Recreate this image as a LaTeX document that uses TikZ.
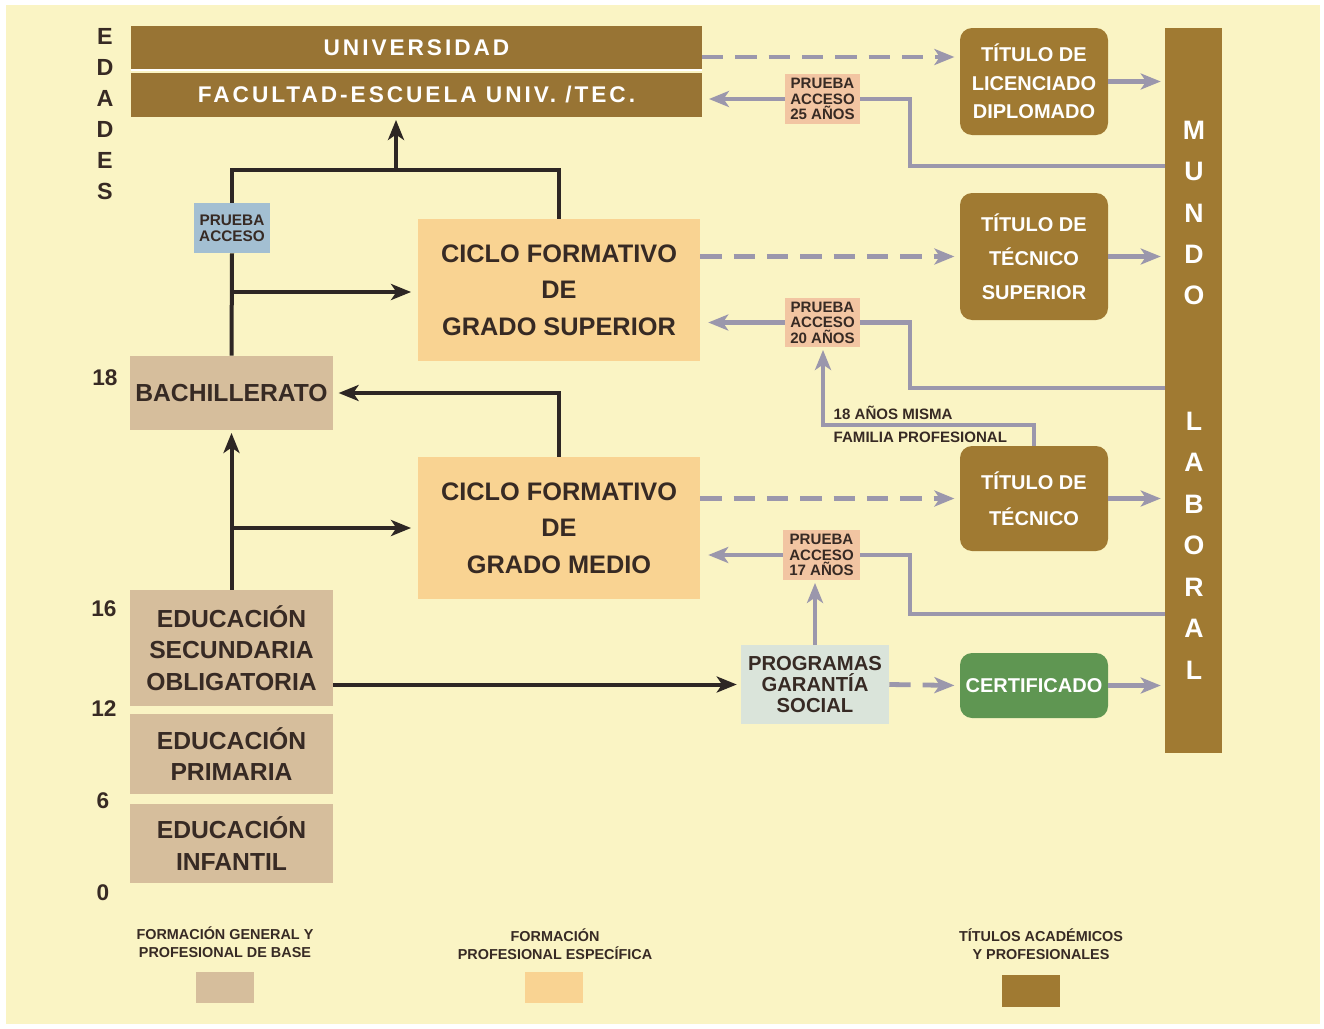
\documentclass[tikz,border=0pt]{standalone}
\usepackage{fontspec}
\setmainfont{Liberation Sans}
\usetikzlibrary{arrows.meta}
\definecolor{bgy}{RGB}{250,244,196}
\definecolor{cBrown}{RGB}{160,122,50}
\definecolor{cUni}{RGB}{152,116,52}
\definecolor{cTan}{RGB}{214,190,156}
\definecolor{cOrange}{RGB}{249,211,146}
\definecolor{cSalmon}{RGB}{242,197,162}
\definecolor{cBlue}{RGB}{163,191,210}
\definecolor{cPgray}{RGB}{218,228,218}
\definecolor{cGreen}{RGB}{95,150,82}
\definecolor{cGline}{RGB}{155,151,172}
\definecolor{cDline}{RGB}{45,38,36}
\definecolor{cText}{RGB}{55,42,36}
\tikzset{
  area/.style args={#1/#2/#3/#4}{at={({(#1+#3)/2},{(#2+#4)/2})},
     minimum width={(#3-#1)*0.75pt}, minimum height={(#4-#2)*0.75pt}},
  box/.style={inner sep=0pt, align=center, text=cText},
  basebox/.style={box, fill=cTan, font=\bfseries\fontsize{18.5}{23.5}\selectfont},
  fpbox/.style={box, fill=cOrange, font=\bfseries\fontsize{19}{27.5}\selectfont},
  unibox/.style={box, fill=cUni, text=white, font=\bfseries\fontsize{17}{20}\selectfont\addfontfeatures{LetterSpace=13}},
  titbox/.style={box, fill=cBrown, rounded corners=9pt, text=white, font=\bfseries\fontsize{15}{21.3}\selectfont},
  pbox/.style={box, fill=cSalmon, font=\bfseries\fontsize{11.3}{11.7}\selectfont},
  agelbl/.style={text=cText, font=\bfseries\fontsize{17}{20}\selectfont},
  legtxt/.style={text=cText, align=center, font=\bfseries\fontsize{10.8}{13.5}\selectfont},
  dln/.style={draw=cDline, line width=3pt},
  darr/.style={dln, -{Stealth[length=15pt,width=12pt,inset=4pt]}},
  gln/.style={draw=cGline, line width=3.6pt},
  garr/.style={gln, -{Stealth[length=15pt,width=12pt,inset=4pt]}},
  gdarr/.style={garr, dash pattern=on 16pt off 9pt}
}
\begin{document}
\begin{tikzpicture}[x=0.75pt,y=-0.75pt]
\fill[white] (0,0) rectangle (1324,1028);
\fill[bgy] (6,5) rectangle (1320,1024);
\useasboundingbox (0,0) rectangle (1324,1028);

% EDADES and ages
\node[text=cText, align=center, font=\bfseries\fontsize{17.5}{23.25}\selectfont] (edades) at (105,114) {E\\D\\A\\D\\E\\S};
\node[agelbl] (a18) at (105,378) {18};
\node[agelbl] (a16) at (104,609) {16};
\node[agelbl] (a12) at (104,709) {12};
\node[agelbl] (a6) at (103,801) {6};
\node[agelbl] (a0) at (103,893) {0};

% University
\node[unibox, area=131/26/702/70] (univ) {UNIVERSIDAD};
\node[unibox, area=131/73/702/117] (fac) {FACULTAD-ESCUELA UNIV. /TEC.};
\draw[white, line width=1.6pt] (univ.south west) -- (univ.south east);

% Titles
\node[titbox, area=960/28/1108/135] (tl) {TÍTULO DE\\LICENCIADO\\DIPLOMADO};
\node[titbox, area=960/193/1108/320, font=\bfseries\fontsize{15}{25.5}\selectfont] (ts) {TÍTULO DE\\TÉCNICO\\SUPERIOR};
\node[titbox, area=960/446/1108/551, font=\bfseries\fontsize{15}{27}\selectfont] (tt) {TÍTULO DE\\TÉCNICO};
\node[titbox, fill=cGreen, area=960/653/1108/718] (cert) {CERTIFICADO};
\node[box, fill=cBrown, area=1165/28/1222/753] (mundo) {};
\node[text=white, align=center, font=\bfseries\fontsize{20}{31.1}\selectfont] (mw1) at (1194,213) {M\\U\\N\\D\\O};
\node[text=white, align=center, font=\bfseries\fontsize{20}{31.1}\selectfont] (mw2) at (1194,545.5) {L\\A\\B\\O\\R\\A\\L};

% Formation boxes
\node[fpbox, area=418/219/700/361] (cfs) {CICLO FORMATIVO\\DE\\GRADO SUPERIOR};
\node[fpbox, area=418/457/700/599] (cfm) {CICLO FORMATIVO\\DE\\GRADO MEDIO};
\node[basebox, area=130/356/333/430] (bach) {BACHILLERATO};
\node[basebox, area=130/590/333/706] (eso) {EDUCACIÓN\\SECUNDARIA\\OBLIGATORIA};
\node[basebox, area=130/714/333/794] (prim) {EDUCACIÓN\\PRIMARIA};
\node[basebox, area=130/804/333/883] (inf) {EDUCACIÓN\\INFANTIL};

% Access tests
\node[pbox, fill=cBlue, area=194/203/270/253, font=\bfseries\fontsize{11.5}{12}\selectfont] (pa) {PRUEBA\\ACCESO};
\node[pbox, area=785/74/860/124] (p25) {PRUEBA\\ACCESO\\25 AÑOS};
\node[pbox, area=785/298/860/347] (p20) {PRUEBA\\ACCESO\\20 AÑOS};
\node[pbox, area=783/530/860/580] (p17) {PRUEBA\\ACCESO\\17 AÑOS};
\node[box, fill=cPgray, area=741/645/889/724, font=\bfseries\fontsize{15.2}{15.8}\selectfont] (prog) {PROGRAMAS\\GARANTÍA\\SOCIAL};

% Dark connectors
\coordinate (jl) at (232,170);
\coordinate (jn) at (396,170);
\coordinate (a1) at (232,292);
\coordinate (a2) at (232,528);
\draw[dln] (bach.north) -- (pa.south);
\draw[dln] (pa.north) -- (pa.north |- jl) -- (jl -| cfs.north) -- (cfs.north);
\draw[darr, shorten >=2pt] (jn) -- (jn |- fac.south);
\draw[darr, shorten >=5pt] (a1) -- (a1 -| cfs.west);
\draw[darr, shorten >=4pt] (cfm.north) |- (bach.east);
\draw[darr, shorten >=2pt] (eso.north) -- (bach.south);
\draw[darr, shorten >=5pt] (a2) -- (a2 -| cfm.west);
\draw[darr, shorten >=3pt] (prog.west -| eso.east) -- (prog.west);

% Grey connectors
\coordinate (d1) at (702,57);
\draw[gdarr, shorten >=4pt] (d1) -- (d1 -| tl.west);
\draw[gdarr, shorten >=4pt] (ts.west -| cfs.east) -- (ts.west);
\draw[gdarr, shorten >=4pt] (tt.west -| cfm.east) -- (tt.west);
\draw[gdarr, shorten >=4pt] (prog.east) -- (cert.west);
\draw[garr, shorten >=3pt] (tl.east) -- (tl.east -| mundo.west);
\draw[garr, shorten >=3pt] (ts.east) -- (ts.east -| mundo.west);
\draw[garr, shorten >=3pt] (tt.east) -- (tt.east -| mundo.west);
\draw[garr, shorten >=3pt] (cert.east) -- (cert.east -| mundo.west);

\coordinate (r1) at (910,166);
\coordinate (r2) at (910,388);
\coordinate (r3) at (910,614);
\draw[gln] (r1 -| mundo.west) -- (r1) |- (p25.east);
\draw[gln] (r2 -| mundo.west) -- (r2) |- (p20.east);
\draw[gln] (r3 -| mundo.west) -- (r3) |- (p17.east);
\draw[garr, shorten >=5pt] (p25.west) -- (p25.west -| fac.east);
\draw[garr, shorten >=6pt] (p20.west) -- (p20.west -| cfs.east);
\draw[garr, shorten >=6pt] (p17.west) -- (p17.west -| cfm.east);
\coordinate (f1) at (823,425);
\draw[garr, shorten >=2pt] (tt.north) |- (f1) -- (f1 |- p20.south);
\draw[garr, shorten >=2pt] (prog.north) -- (prog.north |- p17.south);
\node[anchor=west, text=cText, font=\bfseries\fontsize{11.3}{13}\selectfont] (fam1) at (829,413) {18 AÑOS MISMA};
\node[anchor=west, text=cText, font=\bfseries\fontsize{11.3}{13}\selectfont] (fam2) at (829,437) {FAMILIA PROFESIONAL};

% Legend
\node[legtxt] (l1) at (225,942) {FORMACIÓN GENERAL Y\\PROFESIONAL DE BASE};
\node[legtxt] (l2) at (555,944) {FORMACIÓN\\PROFESIONAL ESPECÍFICA};
\node[legtxt] (l3) at (1041,944) {TÍTULOS ACADÉMICOS\\Y PROFESIONALES};
\node[box, fill=cTan, area=196/972/254/1003] (s1) {};
\node[box, fill=cOrange, area=525/972/583/1003] (s2) {};
\node[box, fill=cBrown, area=1002/975/1060/1007] (s3) {};
\end{tikzpicture}
\end{document}
